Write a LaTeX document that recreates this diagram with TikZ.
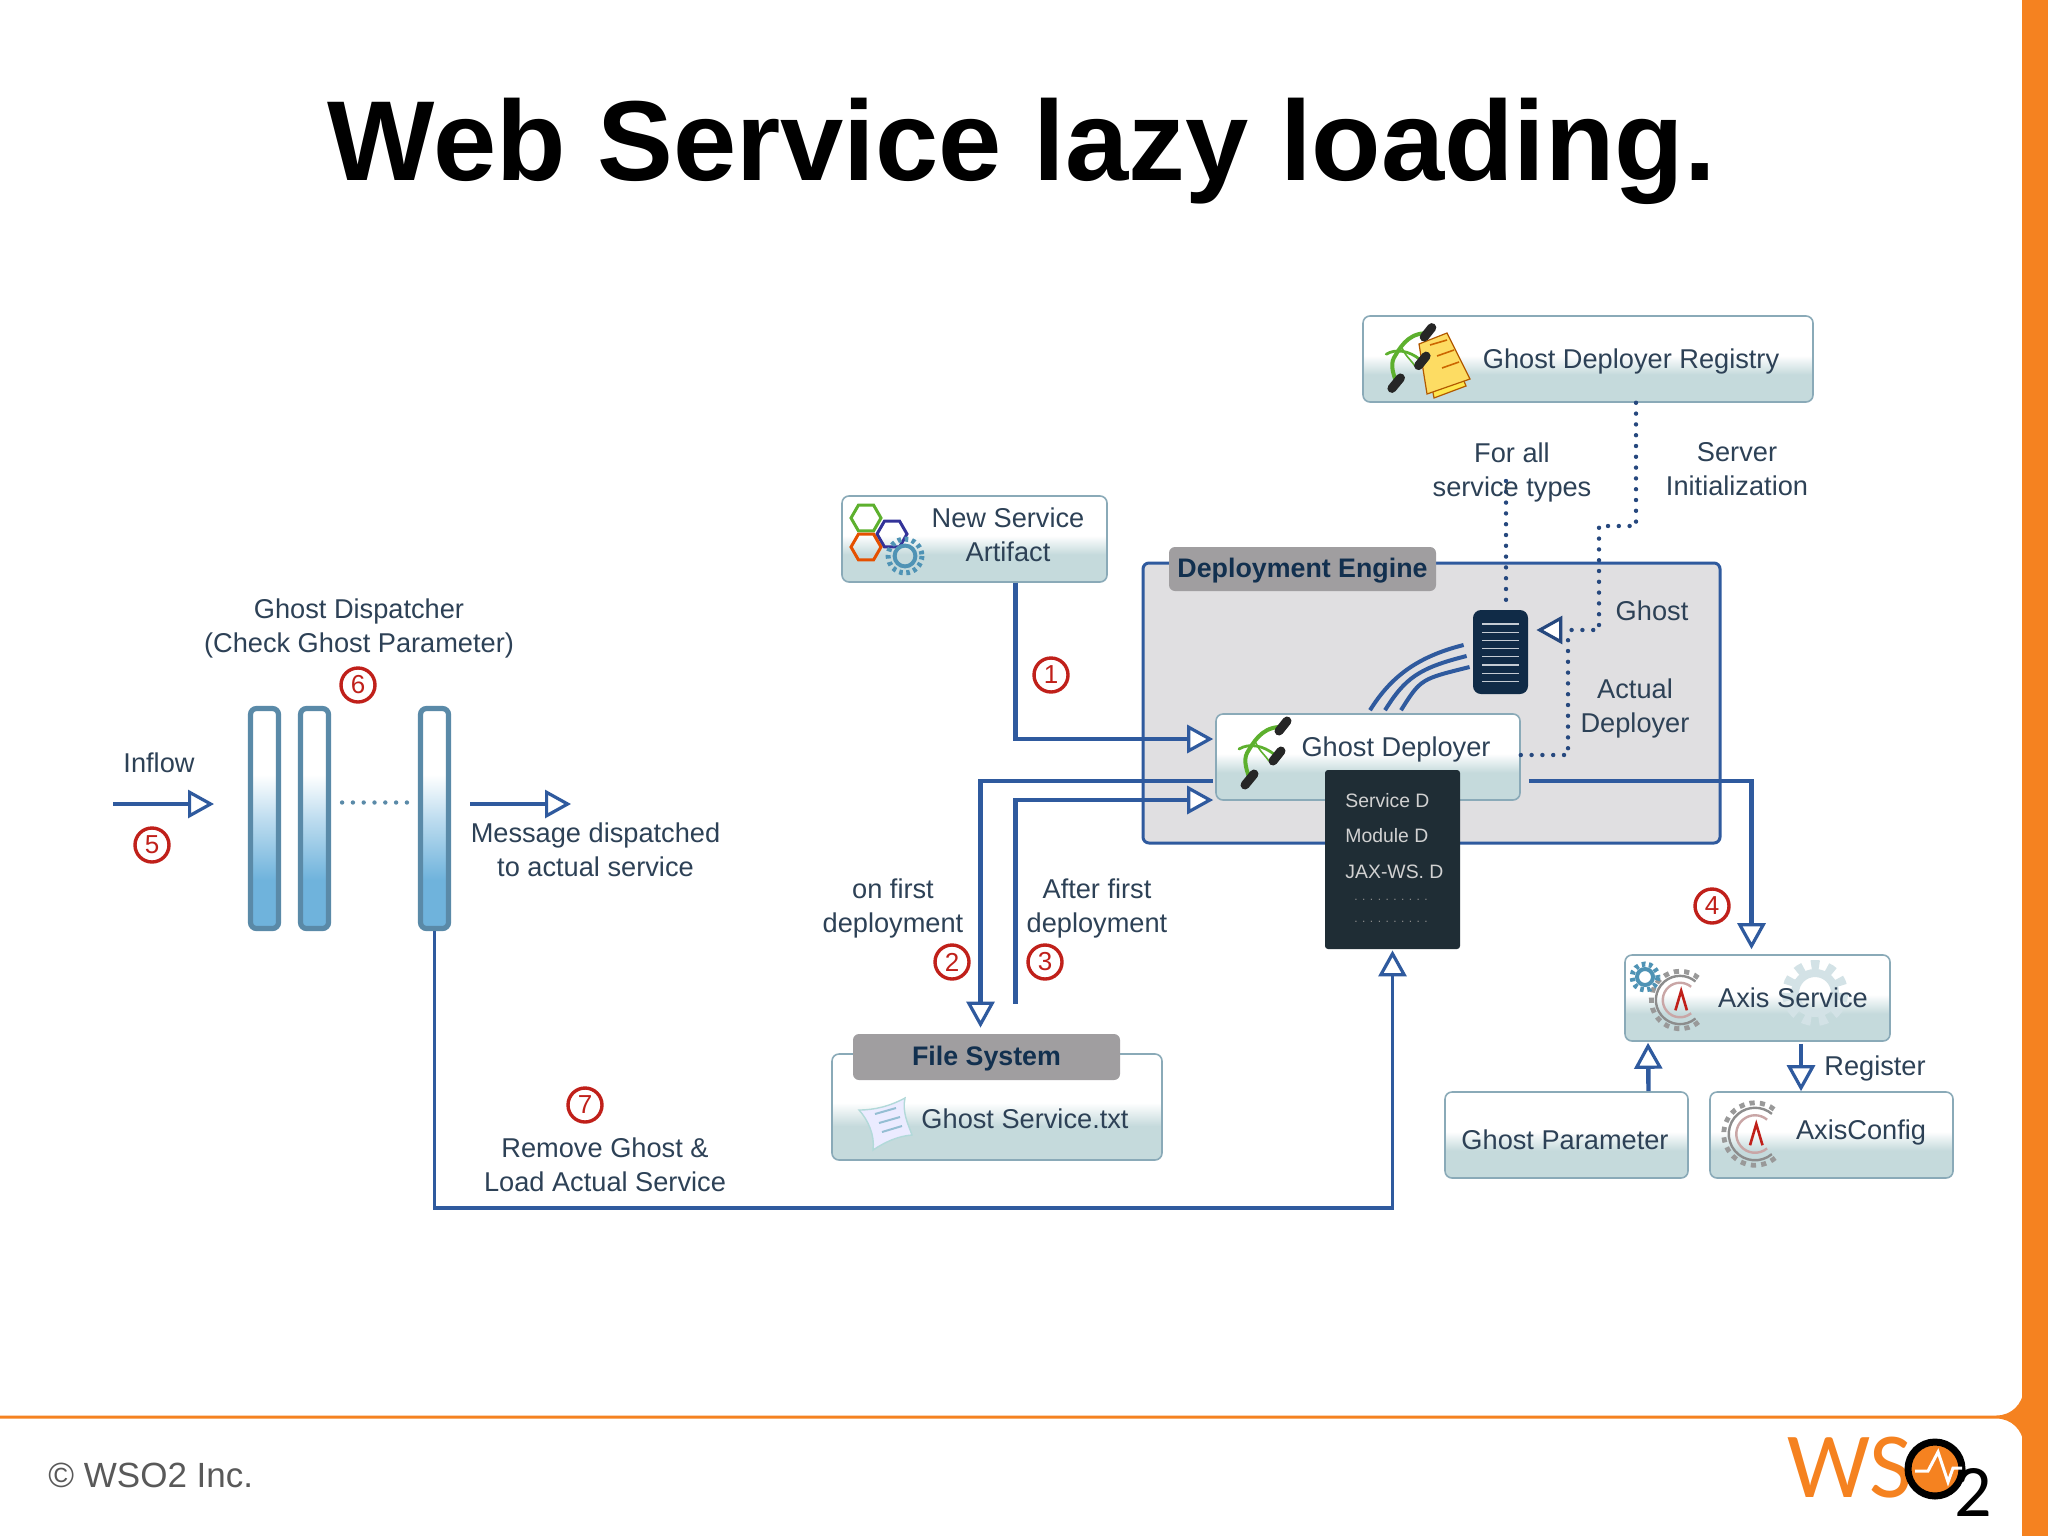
\documentclass[tikz,border=0pt]{standalone}
\usepackage{fontspec}
\setmainfont{Liberation Sans}
\newfontfamily\logofont{Carlito}
\usetikzlibrary{arrows.meta,calc,shapes.geometric}
\definecolor{txt}{HTML}{2D4156}
\definecolor{flowc}{HTML}{2F5A9E}
\definecolor{boxb}{HTML}{8AAAB8}
\definecolor{teal1}{HTML}{C5DADC}
\definecolor{orng}{HTML}{F58220}
\definecolor{navy}{HTML}{12304F}
\definecolor{grayl}{HTML}{A09EA0}
\definecolor{darkb}{HTML}{1F2D35}
\definecolor{barb}{HTML}{5A8AA8}
\definecolor{barf}{HTML}{6FB3DC}
\definecolor{redn}{HTML}{C0201A}
\definecolor{engine}{HTML}{E0DFE1}
\definecolor{leaf}{HTML}{5DB02E}
\definecolor{fadeg}{HTML}{D3E2E6}
\definecolor{gearb}{HTML}{4F93B5}
\pgfdeclareverticalshading{boxsh}{100bp}{color(0bp)=(teal1); color(41bp)=(teal1); color(52bp)=(white); color(100bp)=(white)}
\pgfdeclareverticalshading{barsh}{100bp}{color(0bp)=(barf); color(36bp)=(barf); color(50bp)=(barf!45!white); color(60bp)=(white); color(100bp)=(white)}
\tikzset{
  box/.style={rectangle,rounded corners=3.5pt,draw=boxb,line width=.8pt,shading=boxsh,inner sep=0pt},
  tag/.style={rectangle,rounded corners=3pt,fill=grayl,inner sep=0pt,text=navy,font=\fontsize{13.4}{16}\selectfont\bfseries},
  lbl/.style={text=txt,align=center,inner sep=0pt,font=\fontsize{13.6}{17}\selectfont},
  dk/.style={text=white!82!black,inner sep=0pt,anchor=west,font=\fontsize{9.7}{12}\selectfont},
  num/.style={circle,draw=redn,line width=1.7pt,fill=white,text=redn,inner sep=0pt,minimum size=17pt,font=\fontsize{13}{13}\selectfont},
  bar/.style={rectangle,rounded corners=3pt,draw=barb,line width=2.6pt,shading=barsh,minimum width=14pt,minimum height=110pt,inner sep=0pt},
  flow/.style={draw=flowc,line width=2.2pt,-{Triangle[open,length=13pt,width=14pt,fill=white,line width=1.6pt]}},
  thinflow/.style={flow,line width=1.8pt},
  dots/.style={draw=flowc!80!black,line width=2.2pt,line cap=round,dash pattern=on 0pt off 5.4pt},
  dotsarrow/.style={dots,-{Triangle[open,length=13pt,width=14pt,fill=white,line width=1.6pt]}},
  clipicon/.pic={
    \draw[leaf,line width=2pt,line cap=round] (16,-26) .. controls (-2,-25) and (-10,-10) .. (-16,0) .. controls (-20,8) and (-16,18) .. (-13,27);
    \draw[leaf,line width=1.4pt,line cap=round] (-24,-4) .. controls (-14,-10) and (0,-8) .. (12,2);
    \draw[leaf,line width=.8pt] (-8,-12) .. controls (-4,-2) and (2,2) .. (6,8);
    \draw[black!85,line width=4.5pt,line cap=round] (16,-22)--(24,-32) (10,8)--(18,-2) (-18,32)--(-9,21);
  },
  smallgear/.pic={
    \draw[gearb,line width=2pt] (0,0) circle (8);
    \draw[gearb,line width=2.5pt,dash pattern=on 1.8pt off 1.8pt] (0,0) circle (13);
  },
  fadegear/.pic={
    \draw[fadeg,line width=4pt] (0,0) circle (20);
    \draw[fadeg,line width=5pt,dash pattern=on 4pt off 4pt] (0,0) circle (28);
  },
  axisgear/.pic={
    \draw[black!40,line width=2.4pt,dash pattern=on 2.6pt off 2.6pt] (50:25) arc[start angle=50,end angle=310,radius=25];
    \draw[black!45,line width=1.2pt] (50:21) arc[start angle=50,end angle=310,radius=21];
    \draw[red!40!black!35,line width=1.2pt] (50:15) arc[start angle=50,end angle=310,radius=15];
    \draw[redn,line width=1.3pt] (-4,9) -- (1,-8) -- (6,9);
  },
  hexa/.style={regular polygon,regular polygon sides=6,draw=#1,line width=1.5pt,minimum size=15pt,inner sep=0pt}
}
\begin{document}
\begin{tikzpicture}[x=0.5pt,y=-0.5pt]
\useasboundingbox (0,0) rectangle (2048,1536);
\fill[white] (0,0) rectangle (2048,1536);
% slide frame
\fill[orng] (2022,0) rectangle (2048,1536);
\fill[orng] (2024,1390) .. controls (2022,1404) and (2012,1415.5) .. (1996,1415.5) -- (0,1415.5) -- (0,1418.5) -- (1996,1418.5) .. controls (2012,1418.5) and (2022,1430) .. (2024,1444) -- cycle;
\node[anchor=base,inner sep=0pt,font=\fontsize{56.85}{60}\selectfont\bfseries] (title) at (1022,180) {Web Service lazy loading.};
\node[anchor=base west,inner sep=0pt,text=black!65,font=\fontsize{17.5}{20}\selectfont] (copy) at (48,1487) {© WSO2 Inc.};
% logo
\node[inner sep=0pt,text=orng,font=\logofont\fontsize{46.6}{50}\selectfont] (ws) at (1850,1468) {WS};
\node[circle,draw=black,line width=3.5pt,fill=orng,minimum size=27pt,inner sep=0pt] (logoO) at (1935,1469) {};
\draw[white,line width=1.5pt] (1915,1471)--(1928,1471)--(1938,1452)--(1948,1482)--(1953,1468)--(1962,1468);
\node[inner sep=0pt,text=black,font=\logofont\fontsize{37}{40}\selectfont] (two) at (1973,1492) {2};

% deployment engine
\node[rectangle,rounded corners=3pt,draw=flowc,fill=engine,line width=1.5pt,minimum width=288.5pt,minimum height=140pt,inner sep=0pt] (de) at (1431.5,703) {};
\node[tag,minimum width=133.5pt,minimum height=22pt,text depth=3pt,text height=11pt] (detag) at (1302.5,569) {Deployment Engine};
\node[box,minimum width=152pt,minimum height=43pt] (gd) at (1368,757) {};
\pic at (1263,753) {clipicon};
\node[lbl] (gdt) at (1396,749.6) {Ghost Deployer};
\node[rectangle,rounded corners=1.5pt,fill=darkb,minimum width=67.5pt,minimum height=89.5pt,inner sep=0pt] (dark) at (1392.5,859.5) {};
\node[dk] (d1) at (1345,801) {Service D};
\node[dk] (d2) at (1345,836) {Module D};
\node[dk] (d3) at (1345,872) {JAX-WS. D};
\node[dk,font=\fontsize{6}{8}\selectfont,text=white!55!black] (d4) at (1354,900) {. . . . . . . . . .};
\node[dk,font=\fontsize{6}{8}\selectfont,text=white!55!black] (d5) at (1354,922) {. . . . . . . . . .};
\node[rectangle,rounded corners=4pt,fill=navy!90!black,minimum width=27.5pt,minimum height=42pt,inner sep=0pt] (doc) at (1500.5,652) {};
\foreach \i in {0,...,7}{\draw[white!75!navy,line width=.6pt] (1482,624+8.2*\i) -- (1519,624+8.2*\i);}
\foreach \a/\b/\c/\d in {1/-4.5/3.5/0,8.5/-3/-2/1,16.5/-1.5/-7.5/2}{
  \draw[flowc,line width=2pt] ([shift={(\a pt,1.5pt)}]gd.north) .. controls +(10pt,16pt) and +(-24pt,-6pt) .. ([shift={(\b pt,\c pt)}]doc.west);
}

% boxes
\node[box,minimum width=225pt,minimum height=43pt] (reg) at (1588,359) {};
\fill[yellow!80!orange!70!white,draw=orange!70!black,line width=.6pt] (1425,350)--(1447,340)--(1466,386)--(1434,398)--cycle;
\fill[yellow!60!orange!60!white,draw=orange!70!black,line width=.6pt] (1419,344)--(1447,333)--(1470,379)--(1427,394)--cycle;
\draw[orange!80!black,line width=.8pt] (1430,345)--(1447,340) (1437,356)--(1454,350) (1442,368)--(1459,362);
\pic[scale=.95] at (1409,358) {clipicon};
\node[lbl] (regt) at (1631,361.6) {Ghost Deployer Registry};

\node[box,minimum width=132.5pt,minimum height=43pt] (art) at (974.5,539) {};
\node[hexa=leaf] (h1) at (866,518) {};
\node[hexa=blue!50!black!80!white] (h2) at (892,534) {};
\node[hexa=orange!70!red!90!black] (h3) at (866,547) {};
\pic[scale=1.3] at (905,556) {smallgear};
\node[lbl] (artt) at (1008,535) {New Service\\Artifact};

\node[box,minimum width=165pt,minimum height=53pt] (fs) at (997,1107) {};
\node[tag,minimum width=133.5pt,minimum height=23pt,text depth=3pt,text height=11pt] (fsl) at (986.5,1057) {File System};
\path[fill=blue!8!white,draw=teal!30!white,line width=.7pt] (859,1110) .. controls (875,1110) and (890,1106) .. (905,1098) .. controls (902,1112) and (908,1124) .. (912,1135) .. controls (898,1136) and (885,1142) .. (873,1150) .. controls (875,1135) and (868,1120) .. (859,1110) -- cycle;
\draw[gearb!60!white,line width=1pt] (875,1114)--(896,1108) (879,1123)--(900,1117) (882,1132)--(902,1126);
\node[lbl] (fst) at (1025,1119) {Ghost Service.txt};

\node[box,minimum width=132.5pt,minimum height=43pt] (axis) at (1757.5,998) {};
\pic at (1815,993) {fadegear};
\pic[scale=1.15] at (1680,1000) {axisgear};
\pic at (1645,977) {smallgear};
\node[lbl] (axist) at (1793,998) {Axis Service};

\node[box,minimum width=121.5pt,minimum height=43pt] (gp) at (1566.5,1135) {};
\node[lbl] (gpt) at (1565,1140) {Ghost Parameter};
\node[box,minimum width=121.5pt,minimum height=43pt] (cfg) at (1831.5,1135) {};
\pic[scale=1.25] at (1755,1134) {axisgear};
\node[lbl] (cfgt) at (1861,1132.6) {AxisConfig};

% bars
\node[bar] (bar1) at (264.5,818.5) {};
\node[bar] (bar2) at (314.5,818.5) {};
\node[bar] (bar3) at (434.5,818.5) {};
\draw[dots,draw=barb] ([shift={(5.5pt,8pt)}]bar2.east) -- ([shift={(-4.5pt,8pt)}]bar3.west);

% connectors
\coordinate (c1) at (1599,526);
\coordinate (c2) at (1568,630);
\coordinate (c3) at (1506,481);
\coordinate (cbot) at (0,1208);
\coordinate (in1) at (113,804);
\coordinate (in2) at (214,804);
\coordinate (out1) at (470,804);
\coordinate (out2) at (571,804);
\draw[flow] ([xshift=20.5pt]art.south) |- ([shift={(-1pt,9pt)}]gd.west);
\draw[flow] ([shift={(-1pt,-12pt)}]gd.west) -| ([shift={(-3pt,3pt)}]fsl.north);
\draw[flow] ([shift={(14.5pt,15pt)}]fsl.north) |- ([shift={(-1pt,-21.5pt)}]gd.west);
\draw[flow] ([shift={(4pt,-12pt)}]gd.east) -| ([shift={(-3pt,2.5pt)}]axis.north);
\draw[thinflow] (bar3.south) -- (bar3.south |- cbot) -| ([yshift=-.5pt]dark.south);
\draw[flow] ([xshift=41pt]gp.north) -- ([xshift=-54.75pt,yshift=-.5pt]axis.south);
\draw[flow] ([xshift=21.75pt,yshift=-1pt]axis.south) -- ([xshift=-15.25pt]cfg.north);
\draw[flow] (in1) -- (in2);
\draw[flow] (out1) -- (out2);
\draw[dots] ([yshift=1pt]gd.east) -| (c2);
\draw[dotsarrow] ([xshift=24pt]reg.south) |- (c1) |- ([shift={(4pt,11pt)}]doc.east);
\draw[dots] (c3) -- ([shift={(2.75pt,4pt)}]doc.north);

% labels
\node[lbl] (tgd) at (359,628.1) {Ghost Dispatcher\\(Check Ghost Parameter)};
\node[lbl] (tin) at (159,763) {Inflow};
\node[lbl] (tmsg) at (595.5,850) {Message dispatched\\to actual service};
\node[lbl] (trem) at (605,1165) {Remove Ghost \&\\Load Actual Service};
\node[lbl] (ton) at (893,908.6) {on first\\deployment};
\node[lbl] (taf) at (1097,908.6) {After first\\deployment};
\node[lbl] (tfor) at (1512,472.6) {For all\\service types};
\node[lbl] (tsrv) at (1737,469) {Server\\Initialization};
\node[lbl] (tgh) at (1652,611) {Ghost};
\node[lbl] (tact) at (1635,708.3) {Actual\\Deployer};
\node[lbl] (treg) at (1875,1068.6) {Register};

% numbers
\node[num] (n1) at (1051,675) {1};
\node[num] (n2) at (952,962) {2};
\node[num] (n3) at (1045,962) {3};
\node[num] (n4) at (1712,906) {4};
\node[num] (n5) at (152,845) {5};
\node[num] (n6) at (358,685) {6};
\node[num] (n7) at (585,1105) {7};
\end{tikzpicture}
\end{document}
